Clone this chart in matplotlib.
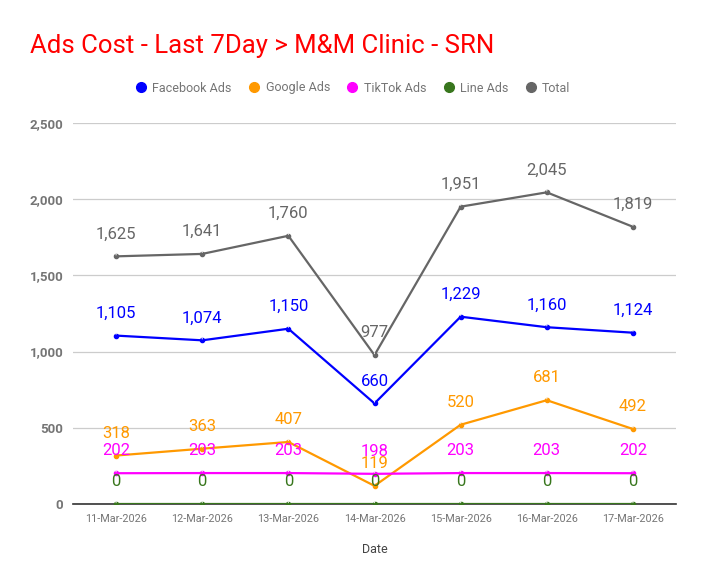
import matplotlib.pyplot as plt

dates = ['11-Mar-2026', '12-Mar-2026', '13-Mar-2026', '14-Mar-2026',
         '15-Mar-2026', '16-Mar-2026', '17-Mar-2026']
facebook = [1105, 1074, 1150, 660, 1229, 1160, 1124]
google = [318, 363, 407, 119, 520, 681, 492]
tiktok = [202, 203, 203, 198, 203, 203, 202]
line_ads = [0, 0, 0, 0, 0, 0, 0]
total = [1625, 1641, 1760, 977, 1951, 2045, 1819]

series_names = ['Facebook Ads', 'Google Ads', 'TikTok Ads', 'Line Ads', 'Total']
series_vals = [facebook, google, tiktok, line_ads, total]
series_colors = ['#0000ff', '#ff9900', '#ff00ff', '#38761d', '#666666']

plt.rcParams['font.family'] = ['Roboto', 'DejaVu Sans']

fig = plt.figure(figsize=(7.04, 5.85), dpi=100)
ax = fig.add_axes([73/704, 81/585, 603/704, 381/585])

x = list(range(len(dates)))
for name, vals, col in zip(series_names, series_vals, series_colors):
    ax.plot(x, vals, color=col, lw=1.6, marker='o', ms=3, label=name, zorder=3)

# data labels with faint leader lines
for vals, col in zip(series_vals, series_colors):
    for xi, v in zip(x, vals):
        ax.annotate(f'{v:,}', (xi, v), xytext=(0, 16), textcoords='offset points',
                    ha='center', va='center', fontsize=12, color=col, zorder=5,
                    arrowprops=dict(arrowstyle='-', color='#eeeeee', lw=0.8,
                                    shrinkA=7, shrinkB=1))

ax.set_xlim(-0.5, 6.5)
ax.set_ylim(0, 2500)
ax.set_yticks([0, 500, 1000, 1500, 2000, 2500])
ax.set_yticklabels([f'{t:,}' for t in [0, 500, 1000, 1500, 2000, 2500]],
                   fontsize=9.5, fontweight='bold', color='#757575')
ax.set_xticks(x)
ax.set_xticklabels(dates, fontsize=7.8, color='#757575')
ax.tick_params(length=0, pad=7)
ax.grid(axis='y', color='#cccccc', lw=0.9)
ax.set_axisbelow(True)
for s in ['top', 'right', 'left']:
    ax.spines[s].set_visible(False)
ax.spines['bottom'].set_color('#333333')
ax.spines['bottom'].set_linewidth(1.2)
ax.spines['bottom'].set_zorder(2)
ax.set_xlabel('Date', fontsize=9, color='#444444', labelpad=14)

fig.text(30/704, 1 - 46/585, 'Ads Cost - Last 7Day > M&M Clinic - SRN',
         fontsize=18.5, color='#ff0000', va='center', ha='left')

handles = [plt.Line2D([], [], color=c, marker='o', ls='none', ms=7) for c in series_colors]
fig.legend(handles, series_names, loc='center', bbox_to_anchor=(352/704, 1 - 88/585),
           ncol=5, frameon=False, fontsize=9, labelcolor='#757575',
           handletextpad=0.3, columnspacing=1.2, handlelength=1.2)

fig.savefig('out.png', dpi=100)
